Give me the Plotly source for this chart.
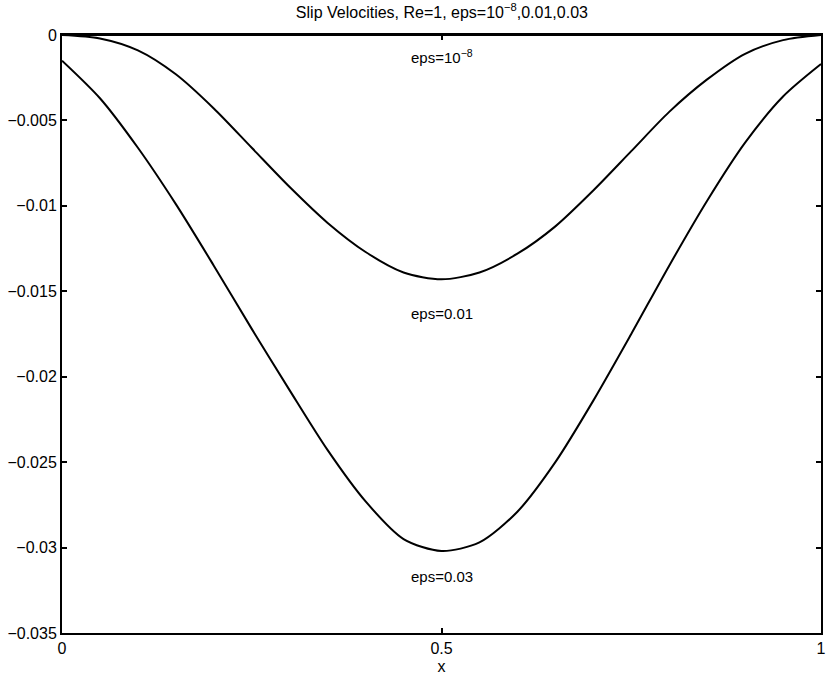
import plotly.graph_objects as go

# x positions (fraction of domain)
x_vals = [0.0, 0.05, 0.1, 0.15, 0.2, 0.25, 0.3, 0.35, 0.4, 0.45, 0.5,
          0.55, 0.6, 0.65, 0.7, 0.75, 0.8, 0.85, 0.9, 0.95, 1.0]
y_eps001 = [0.0, -0.0002, -0.0009, -0.0023, -0.0043, -0.0066, -0.0089, -0.0110, -0.0127, -0.0139, -0.0143,
            -0.0139, -0.0128, -0.0112, -0.0091, -0.0068, -0.0045, -0.0026, -0.0011, -0.0003, 0.0]
y_eps003 = [-0.0015, -0.0037, -0.0066, -0.0099, -0.0135, -0.0172, -0.0208, -0.0243, -0.0273, -0.0295, -0.0302,
            -0.0297, -0.0279, -0.0250, -0.0214, -0.0175, -0.0135, -0.0097, -0.0063, -0.0036, -0.0017]
y_eps1e8 = [0.0] * len(x_vals)

label_texts = ["eps=10<sup>−8</sup>", "eps=0.01", "eps=0.03"]
label_x = [0.5, 0.5, 0.5]
label_y = [-0.00125, -0.0163, -0.0317]

x_ticks = [0, 0.5, 1]
x_tick_text = ["0", "0.5", "1"]
y_ticks = [0, -0.005, -0.01, -0.015, -0.02, -0.025, -0.03, -0.035]
y_tick_text = ["0", "−0.005", "−0.01", "−0.015", "−0.02", "−0.025", "−0.03", "−0.035"]

family = "Liberation Sans, Arial, Helvetica, sans-serif"
fnt = dict(family=family, size=15, color="black")
tick_fnt = dict(family=family, size=16, color="black")

fig = go.Figure()
for ys in [y_eps1e8, y_eps001, y_eps003]:
    fig.add_trace(go.Scatter(x=x_vals, y=ys, mode="lines",
                             line=dict(color="black", width=2, shape="spline", smoothing=0.8),
                             showlegend=False, hoverinfo="skip"))

for t, lx, ly in zip(label_texts, label_x, label_y):
    fig.add_annotation(x=lx, y=ly, text=t, showarrow=False, font=fnt, xref="x", yref="y")

fig.update_layout(
    width=826, height=679,
    margin=dict(l=62, r=5, t=35, b=46, autoexpand=False),
    paper_bgcolor="white", plot_bgcolor="white",
    font=fnt,
    title=dict(text="Slip Velocities, Re=1, eps=10<sup>−8</sup>,0.01,0.03", x=0.535, xanchor="center",
               y=0.99, yanchor="top", font=dict(family=family, size=16, color="black")),
    showlegend=False,
)
fig.update_xaxes(range=[0, 1], tickvals=x_ticks, ticktext=x_tick_text, ticks="inside", ticklen=5,
                 tickwidth=1.5, tickcolor="black", showline=True, linewidth=2, linecolor="black", mirror="ticks",
                 showgrid=False, zeroline=False, automargin=False,
                 title=dict(text="x", font=tick_fnt, standoff=5), tickfont=tick_fnt)
fig.update_yaxes(range=[-0.035, 0], tickvals=y_ticks, ticktext=y_tick_text, ticks="inside", ticklen=5,
                 tickwidth=1.5, tickcolor="black", showline=True, linewidth=2, linecolor="black", mirror="ticks",
                 showgrid=False, zeroline=False, automargin=False, tickfont=tick_fnt)

fig.write_html("out.html", config={"displayModeBar": False},
               post_script="document.body.style.margin='0';document.body.style.overflow='hidden';")
